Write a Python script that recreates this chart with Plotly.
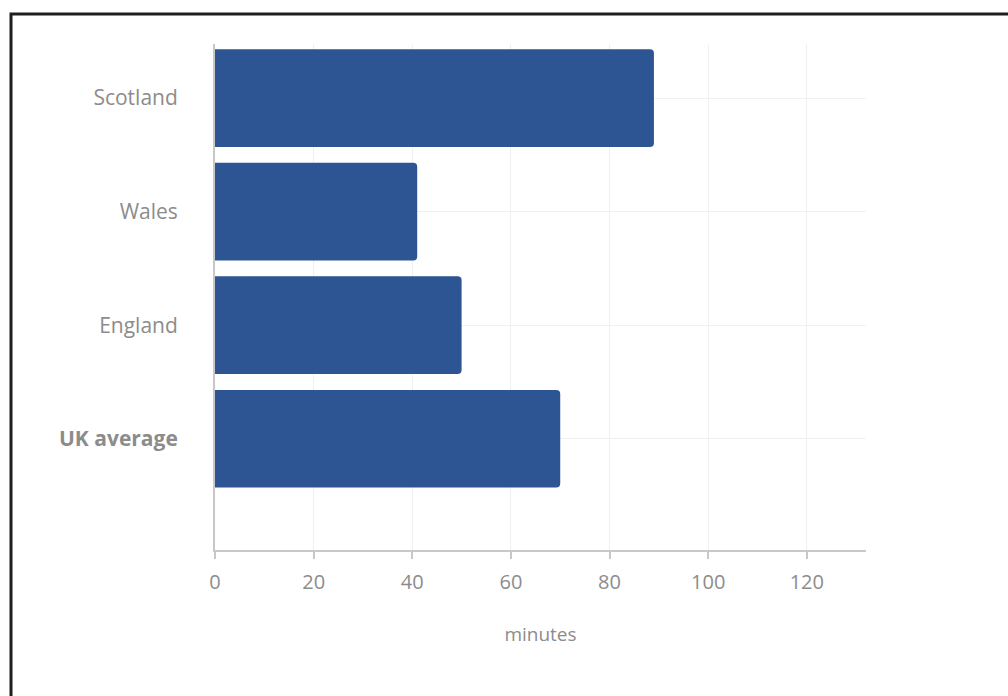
import plotly.graph_objects as go

# Average minutes per region
regions = ["Scotland", "Wales", "England", "UK average"]
minutes = [89, 41, 50, 70]
tick_vals = [0, 20, 40, 60, 80, 100, 120]
region_labels = ["Scotland", "Wales", "England", "<b>UK average</b>"]

BAR_COLOR = "#2D5493"
LABEL_COLOR = "#8C8C8C"
GRID_COLOR = "#F0F0F0"
AXIS_COLOR = "#C8C8C8"
FONT = "Open Sans, sans-serif"

fig = go.Figure(
    go.Bar(
        x=minutes,
        y=regions,
        orientation="h",
        width=0.86,
        marker=dict(color=BAR_COLOR, line=dict(width=0), cornerradius=4),
        hoverinfo="x+y",
    )
)

fig.update_layout(
    width=1008,
    height=696,
    paper_bgcolor="white",
    plot_bgcolor="white",
    margin=dict(l=215, r=142, t=44, b=146),
    font=dict(family=FONT, size=20, color=LABEL_COLOR),
    showlegend=False,
)

fig.update_xaxes(
    range=[0, 132],
    tickvals=tick_vals,
    ticks="outside",
    ticklen=7,
    tickwidth=1.5,
    tickcolor=AXIS_COLOR,
    showline=True,
    linecolor=AXIS_COLOR,
    linewidth=2,
    showgrid=True,
    gridcolor=GRID_COLOR,
    gridwidth=1,
    zeroline=False,
    ticklabelstandoff=6,
    tickfont=dict(family=FONT, size=20, color=LABEL_COLOR),
    title=dict(text="minutes", font=dict(family=FONT, size=19, color=LABEL_COLOR), standoff=34),
)

fig.update_yaxes(
    categoryorder="array",
    categoryarray=regions,
    tickvals=regions,
    ticktext=region_labels,
    range=[3.98, -0.476],
    showline=True,
    linecolor=AXIS_COLOR,
    linewidth=2,
    showgrid=True,
    gridcolor=GRID_COLOR,
    gridwidth=1,
    ticks="",
    ticklabelstandoff=31,
    tickfont=dict(family=FONT, size=21, color=LABEL_COLOR),
)

# Dark frame around the whole chart
fig.add_shape(
    type="rect",
    xref="paper",
    yref="paper",
    x0=(11 - 215) / 651,
    x1=(1012 - 215) / 651,
    y0=(550 - 700) / 506,
    y1=(550 - 14) / 506,
    line=dict(color="#1E1E1E", width=3),
    fillcolor="rgba(0,0,0,0)",
    layer="above",
)

fig.write_html("out.html")
